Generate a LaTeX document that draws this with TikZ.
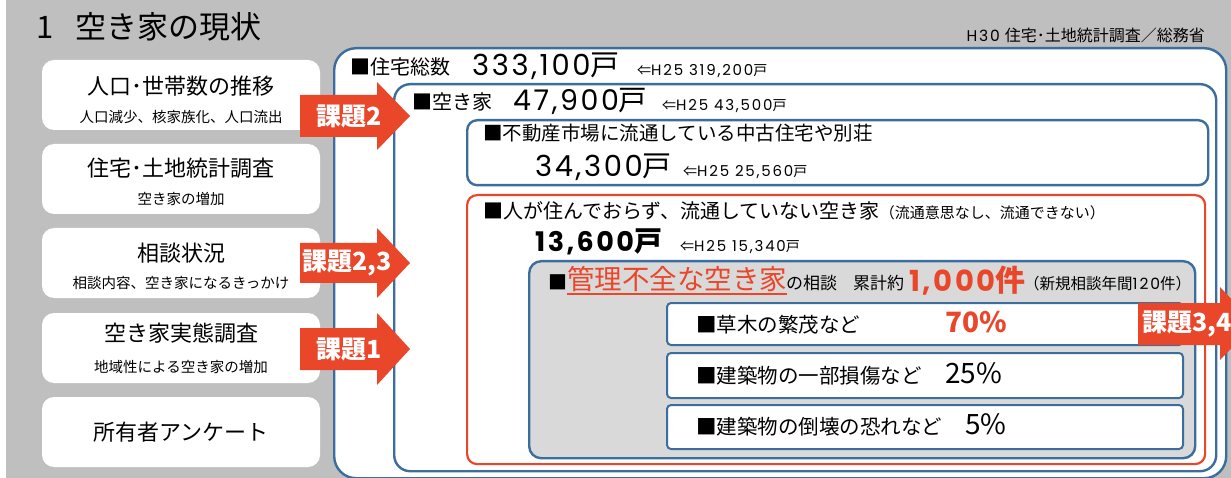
\documentclass[tikz,border=0pt]{standalone}
\usepackage{fontspec}
\setmainfont{Noto Sans CJK JP}
\newfontfamily\numfont[LetterSpace=9]{Poppins}
\newfontfamily\smallnum[LetterSpace=12]{Poppins}
\definecolor{bggray}{HTML}{BEBFBE}
\definecolor{lineblue}{HTML}{3B6E9E}
\definecolor{accent}{HTML}{E9462A}
\definecolor{panelgray}{HTML}{D9D9D9}
\newcommand\myfs[1]{\fontsize{#1pt}{#1pt}\selectfont}
\newcommand\prevnum[1]{{\myfs{14}⇐}{\smallnum\myfs{15}H25 #1}{\myfs{14}戸}}
\begin{document}
\begin{tikzpicture}[x=1pt,y=-1pt,
  leftbox/.style={fill=white, rounded corners=12pt, minimum width=278pt, minimum height=70pt, inner sep=0pt},
  frame/.style={draw=lineblue, line width=2.4pt, inner sep=0pt, anchor=north west},
  redframe/.style={draw=accent, line width=2.2pt, inner sep=0pt, anchor=north west},
  subbox/.style={draw=lineblue, line width=2pt, fill=white, rounded corners=4pt, inner sep=0pt, anchor=north west, minimum width=516pt},
  txt/.style={inner sep=0pt, anchor=base west},
  ctxt/.style={inner sep=0pt, anchor=center},
  arrowfill/.style={fill=accent},
  arrowtxt/.style={inner sep=0pt, anchor=west, text=white, font=\bfseries\myfs{25}},
]
\useasboundingbox (0,0) rectangle (1231,478);
\fill[white] (0,0) rectangle (1231,478);
\fill[bggray] (6,0) rectangle (1231,478);

% title and source
\node[inner sep=0pt, anchor=west] (title) at (36,27) {\myfs{31}1\hspace{22pt}空き家の現状};
\node[inner sep=0pt, anchor=east] (source) at (1205,35) {{\smallnum\myfs{15.5}H30}\hspace{5pt}{\myfs{16}住宅･土地統計調査／総務省}};

% left boxes
\node[leftbox] (b1) at (181,95) {};
\node[leftbox] (b2) at (181,179) {};
\node[leftbox] (b3) at (181,263) {};
\node[leftbox] (b4) at (181,348) {};
\node[leftbox] (b5) at (181,432) {};
\node[ctxt] (b1t) at (181,86) {\myfs{22}人口･世帯数の推移};
\node[ctxt] (b1s) at (181,117) {\myfs{14.5}人口減少、核家族化、人口流出};
\node[ctxt] (b2t) at (181,168) {\myfs{22}住宅･土地統計調査};
\node[ctxt] (b2s) at (181,199) {\myfs{14.5}空き家の増加};
\node[ctxt] (b3t) at (181,253) {\myfs{22}相談状況};
\node[ctxt] (b3s) at (181,283) {\myfs{14.5}相談内容、空き家になるきっかけ};
\node[ctxt] (b4t) at (181,333) {\myfs{22}空き家実態調査};
\node[ctxt] (b4s) at (181,367) {\myfs{14.5}地域性による空き家の増加};
\node[ctxt] (b5t) at (181,432) {\myfs{22}所有者アンケート};

% nested frames
\node[frame, fill=white, rounded corners=22pt, minimum width=892pt, minimum height=430pt] (outer) at (333,47) {};
\node[frame, rounded corners=16pt, minimum width=822pt, minimum height=387pt] (akiya) at (393,83) {};
\node[frame, rounded corners=10pt, minimum width=741pt, minimum height=65pt] (ryutsu) at (466,119) {};
\node[redframe, rounded corners=10pt, minimum width=738pt, minimum height=269pt] (hiryutsu) at (466,194) {};
\node[frame, fill=panelgray, rounded corners=12pt, minimum width=666pt, minimum height=197pt] (kanri) at (528,260) {};
\node[subbox, minimum height=42pt] (sa) at (666,302) {};
\node[subbox, minimum height=45pt] (sb) at (666,352) {};
\node[subbox, minimum height=44pt] (sc) at (666,404) {};

% texts in frames
\node[txt] (t1a) at (350,75) {\myfs{20}■住宅総数};
\node[txt] (t1b) at (472,76) {{\numfont\myfs{29}333,100}\myfs{29}戸};
\node[txt] (t1c) at (637,76) {\prevnum{319,200}};

\node[txt] (t2a) at (412,110) {\myfs{20}■空き家};
\node[txt] (t2b) at (513,111) {{\numfont\myfs{28.5}47,900}\myfs{28.5}戸};
\node[txt] (t2c) at (662,111) {\prevnum{43,500}};

\node[txt] (t3a) at (483,141) {\myfs{19.5}■不動産市場に流通している中古住宅や別荘};
\node[txt] (t3b) at (535,177) {{\numfont\myfs{29}34,300}\myfs{29}戸};
\node[txt] (t3c) at (683,177) {\prevnum{25,560}};

\node[txt] (t4a) at (483,219) {\myfs{20}■人が住んでおらず、流通していない空き家\myfs{15}（流通意思なし、流通できない）};
\node[txt] (t4b) at (535,252) {\bfseries{\numfont\myfs{27}13,600}\myfs{28}戸};
\node[txt] (t4c) at (680,252) {\prevnum{15,340}};

\node[txt] (t5a) at (548,290) {\myfs{19}■};
\node[txt, text=accent] (t5b) at (567,290) {\myfs{27.5}管理不全な空き家};
\draw[accent, line width=1.5pt] ([yshift=-4pt]t5b.base west) -- ([yshift=-4pt]t5b.base east);
\node[txt] (t5c) at (786,290) {\myfs{17}の相談};
\node[txt] (t5d) at (853,290) {\myfs{17}累計約};
\node[txt, text=accent] (t5e) at (909,291) {\bfseries{\numfont\myfs{29}1,000}\myfs{30}件};
\node[txt] (t5f) at (1024,290) {\myfs{15.5}（新規相談年間{\smallnum 120}件）};

\node[txt] (tAa) at (696,332) {\myfs{20.5}■草木の繁茂など};
\node[txt, text=accent] (tAb) at (945,332) {\bfseries\myfs{28}70\%};
\node[txt] (tBa) at (696,383) {\myfs{20.5}■建築物の一部損傷など};
\node[txt] (tBb) at (945,383) {\myfs{28}25\%};
\node[txt] (tCa) at (696,434) {\myfs{20.5}■建築物の倒壊の恐れなど};
\node[txt] (tCb) at (965,434) {\myfs{28}5\%};

% arrows
\fill[arrowfill] (300,95) -- (377,95) -- (377,82) -- (410,116) -- (377,150) -- (377,137) -- (300,137) -- cycle;
\node[arrowtxt] (k2) at (316,116) {課題2};
\fill[arrowfill] (300,243) -- (377,243) -- (377,228) -- (410,263) -- (377,298) -- (377,283) -- (300,283) -- cycle;
\node[arrowtxt] (k23) at (302,263) {課題2,3};
\fill[arrowfill] (300,328) -- (377,328) -- (377,313) -- (410,349) -- (377,385) -- (377,370) -- (300,370) -- cycle;
\node[arrowtxt] (k1) at (316,349) {課題1};
\fill[arrowfill] (1138,303) -- (1220,303) -- (1220,287) -- (1255,324) -- (1220,360) -- (1220,345) -- (1138,345) -- cycle;
\node[arrowtxt] (k34) at (1142,324) {課題3,4};
\end{tikzpicture}
\end{document}
